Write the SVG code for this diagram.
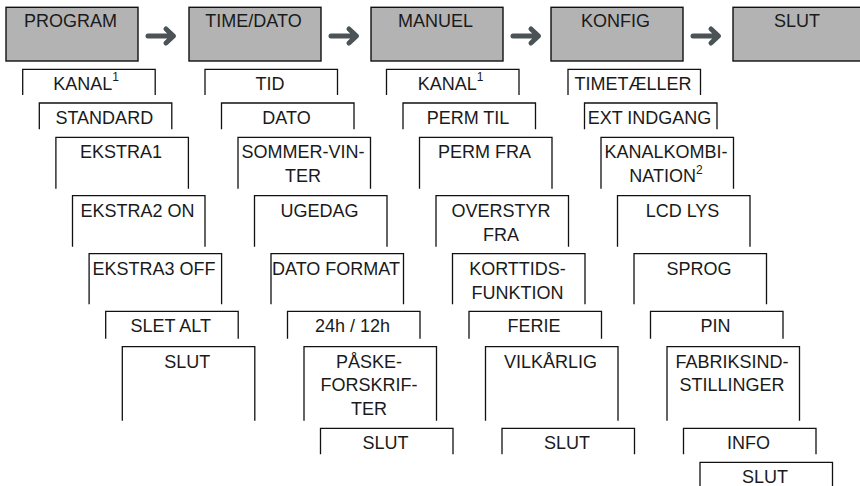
<svg xmlns="http://www.w3.org/2000/svg" width="860" height="486" viewBox="0 0 860 486">
<defs>
<style>
.top{fill:#b3b3b3;stroke:#111;stroke-width:1.4}
.box{fill:none;stroke:#111;stroke-width:1.3}
text{font-family:"Liberation Sans",Arial,Helvetica,sans-serif;font-size:18px;fill:#1a1a1a;text-anchor:middle}
.sup{font-size:12px}
.arr{fill:none;stroke:#4b5357;stroke-width:5;stroke-linecap:round;stroke-linejoin:round}
</style>
</defs>
<rect width="860" height="486" fill="#fff"/>

<!-- top row -->
<g id="program"><rect class="top" x="6" y="7.3" width="132" height="53.7"/><text x="70.5" y="27.3">PROGRAM</text></g>
<g id="timedato"><rect class="top" x="189" y="7.3" width="132" height="53.7"/><text x="253.5" y="27.3">TIME/DATO</text></g>
<g id="manuel"><rect class="top" x="371" y="7.3" width="132" height="53.7"/><text x="435.5" y="27.3">MANUEL</text></g>
<g id="konfig"><rect class="top" x="551" y="7.3" width="132" height="53.7"/><text x="615.5" y="27.3">KONFIG</text></g>
<g id="slut-top"><rect class="top" x="733" y="7.3" width="132" height="53.7"/><text x="797" y="27.3">SLUT</text></g>

<g id="connectors">
<path class="arr" d="M148,36 H172 M166,29 L173.5,36 L166,43"/>
<path class="arr" d="M331,36 H355 M349,29 L356.5,36 L349,43"/>
<path class="arr" d="M513,36 H537 M531,29 L538.5,36 L531,43"/>
<path class="arr" d="M693,36 H717 M711,29 L718.5,36 L711,43"/>
</g>

<!-- column 1 : PROGRAM -->
<g id="p-kanal"><path class="box" d="M22.7,95 V69.3 H155.2 V95"/><text x="86" y="90.3">KANAL<tspan class="sup" dy="-9">1</tspan></text></g>
<g id="p-standard"><path class="box" d="M39.3,129.3 V103 H171.8 V129.3"/><text x="104.3" y="124">STANDARD</text></g>
<g id="p-ekstra1"><path class="box" d="M55.9,188.7 V137.3 H188.4 V188.7"/><text x="120.9" y="158.3">EKSTRA1</text></g>
<g id="p-ekstra2"><path class="box" d="M72.5,246.7 V195.7 H205 V246.7"/><text x="137.5" y="216.7">EKSTRA2 ON</text></g>
<g id="p-ekstra3"><path class="box" d="M89.1,304.3 V253.7 H221.6 V304.3"/><text x="154.1" y="274.7">EKSTRA3 OFF</text></g>
<g id="p-slet"><path class="box" d="M105.7,338.7 V311.3 H238.2 V338.7"/><text x="170.7" y="332.3">SLET ALT</text></g>
<g id="p-slut"><path class="box" d="M122.3,420.7 V346.7 H254.8 V420.7"/><text x="187.3" y="367.7">SLUT</text></g>

<!-- column 2 : TIME/DATO -->
<g id="t-tid"><path class="box" d="M205,95 V69.3 H337.5 V95"/><text x="270" y="90.3">TID</text></g>
<g id="t-dato"><path class="box" d="M221.5,129.3 V103 H354 V129.3"/><text x="286.5" y="124">DATO</text></g>
<g id="t-sommer"><path class="box" d="M238,188.7 V137.3 H370.5 V188.7"/><text x="303" y="158.3">SOMMER-VIN-</text><text x="303" y="182.3">TER</text></g>
<g id="t-ugedag"><path class="box" d="M254.5,246.7 V195.7 H387 V246.7"/><text x="319.5" y="216.7">UGEDAG</text></g>
<g id="t-datoformat"><path class="box" d="M271,304.3 V253.7 H403.5 V304.3"/><text x="336" y="274.7">DATO FORMAT</text></g>
<g id="t-24h"><path class="box" d="M287.5,338.7 V311.3 H420 V338.7"/><text x="352.5" y="332.3">24h / 12h</text></g>
<g id="t-paaske"><path class="box" d="M304,420.7 V346.7 H436.5 V420.7"/><text x="369" y="367.7">PÅSKE-</text><text x="369" y="391.2">FORSKRIF-</text><text x="369" y="415.2">TER</text></g>
<g id="t-slut"><path class="box" d="M320.5,454.3 V428.3 H453 V454.3"/><text x="385.5" y="449.3">SLUT</text></g>

<!-- column 3 : MANUEL -->
<g id="m-kanal"><path class="box" d="M386.5,95 V69.3 H519 V95"/><text x="450.5" y="90.3">KANAL<tspan class="sup" dy="-9">1</tspan></text></g>
<g id="m-permtil"><path class="box" d="M403,129.3 V103 H535.5 V129.3"/><text x="468" y="124">PERM TIL</text></g>
<g id="m-permfra"><path class="box" d="M419.5,188.7 V137.3 H552 V188.7"/><text x="484.5" y="158.3">PERM FRA</text></g>
<g id="m-overstyr"><path class="box" d="M436,246.7 V195.7 H568.5 V246.7"/><text x="501" y="216.7">OVERSTYR</text><text x="501" y="240.7">FRA</text></g>
<g id="m-korttids"><path class="box" d="M452.5,304.3 V253.7 H585 V304.3"/><text x="517.5" y="274.7">KORTTIDS-</text><text x="517.5" y="298.7">FUNKTION</text></g>
<g id="m-ferie"><path class="box" d="M469,338.7 V311.3 H601.5 V338.7"/><text x="534" y="332.3">FERIE</text></g>
<g id="m-vilk"><path class="box" d="M485.5,420.7 V346.7 H618 V420.7"/><text x="550.5" y="367.7">VILKÅRLIG</text></g>
<g id="m-slut"><path class="box" d="M502,454.3 V428.3 H634.5 V454.3"/><text x="567" y="449.3">SLUT</text></g>

<!-- column 4 : KONFIG -->
<g id="k-time"><path class="box" d="M568,95 V69.3 H700.5 V95"/><text x="633" y="90.3">TIMETÆLLER</text></g>
<g id="k-ext"><path class="box" d="M584.5,129.3 V103 H717 V129.3"/><text x="649.5" y="124">EXT INDGANG</text></g>
<g id="k-kanalkomb"><path class="box" d="M601,188.7 V137.3 H733.5 V188.7"/><text x="666" y="158.3">KANALKOMBI-</text><text x="666" y="182.3">NATION<tspan class="sup" dy="-8">2</tspan></text></g>
<g id="k-lcd"><path class="box" d="M617.5,246.7 V195.7 H750 V246.7"/><text x="682.5" y="216.7">LCD LYS</text></g>
<g id="k-sprog"><path class="box" d="M634,304.3 V253.7 H766.5 V304.3"/><text x="699" y="274.7">SPROG</text></g>
<g id="k-pin"><path class="box" d="M650.5,338.7 V311.3 H783 V338.7"/><text x="715.5" y="332.3">PIN</text></g>
<g id="k-fabrik"><path class="box" d="M667,420.7 V346.7 H799.5 V420.7"/><text x="732" y="367.7">FABRIKSIND-</text><text x="732" y="391.2">STILLINGER</text></g>
<g id="k-info"><path class="box" d="M683.5,454.3 V428.3 H816 V454.3"/><text x="748.5" y="449.3">INFO</text></g>
<g id="k-slut"><path class="box" d="M700,487 V462.3 H832.5 V487"/><text x="765" y="483.3">SLUT</text></g>
</svg>
